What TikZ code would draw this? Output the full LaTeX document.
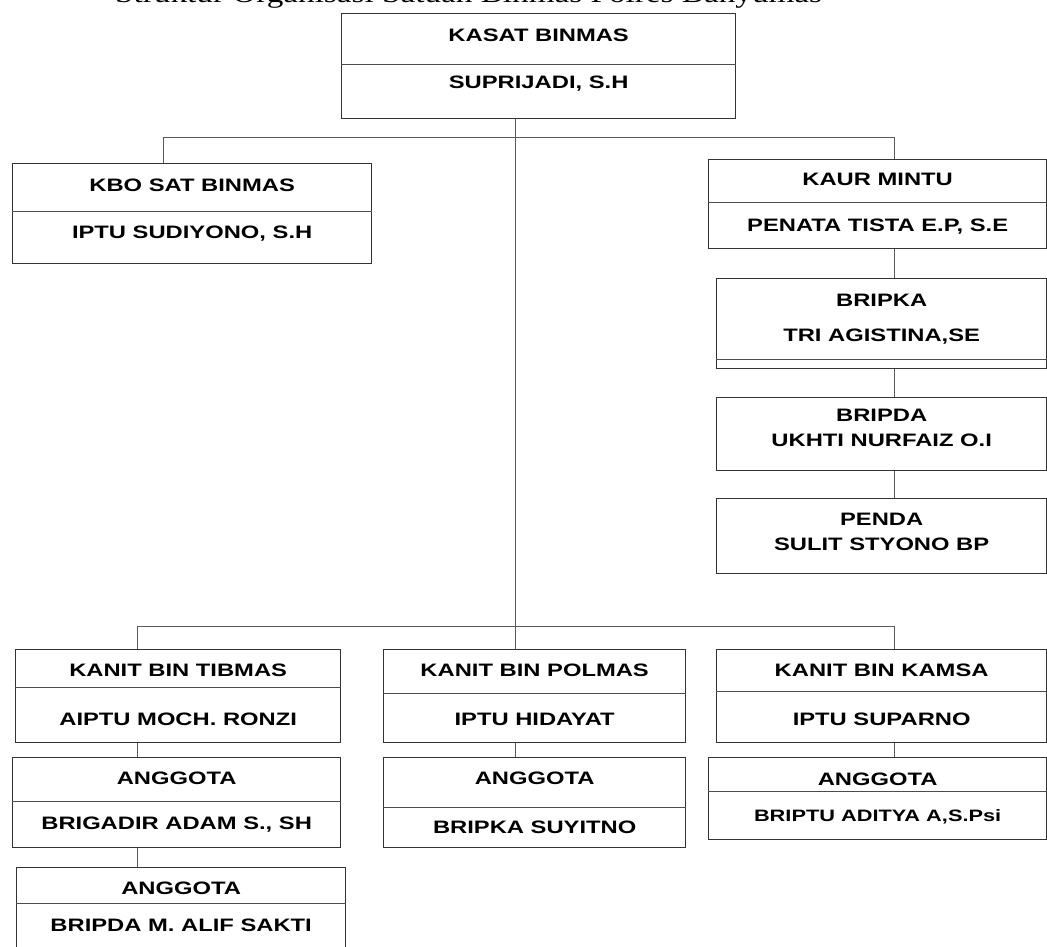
\documentclass[tikz,border=0pt]{standalone}
\usepackage{fontspec}
\setmainfont{Liberation Serif}[FakeStretch=1.23]
\newfontfamily\kotakfont{Liberation Sans}[FakeStretch=1.32]
\tikzset{
  kotak/.style = {draw=black!80, line width=1.3pt, inner sep=0pt, anchor=north west},
  teks/.style = {inner sep=0pt, font=\kotakfont\bfseries\fontsize{18}{18}\selectfont},
  sekat/.style = {draw=black!70, line width=1pt},
  garis/.style = {draw=black!65, line width=0.9pt}
}
\begin{document}
\begin{tikzpicture}[x=1pt,y=-1pt]
  \useasboundingbox (0,0) rectangle (1047,946);

  \node[anchor=base west, inner sep=0pt, font=\fontsize{27}{27}\selectfont] (judul) at (115,2)
    {Struktur Organisasi Satuan Binmas Polres Banyumas};

  % kepala
  \node[kotak, minimum width=394pt, minimum height=105pt] (kasat) at (341,13) {};
  \node[teks] (kasat-jab) at (kasat.north |- 0,35) {KASAT BINMAS};
  \node[teks] (kasat-nama) at (kasat.north |- 0,84) {SUPRIJADI, S.H};
  \draw[sekat] (kasat.west |- 0,64) -- (kasat.east |- 0,64);

  \node[kotak, minimum width=359pt, minimum height=100pt] (kbo) at (12,163) {};
  \node[teks] (kbo-jab) at (kbo.north |- 0,185) {KBO SAT BINMAS};
  \node[teks] (kbo-nama) at (kbo.north |- 0,234) {IPTU SUDIYONO, S.H};
  \draw[sekat] (kbo.west |- 0,211) -- (kbo.east |- 0,211);

  % urusan mintu
  \node[kotak, minimum width=338pt, minimum height=89pt] (kaur) at (708,159) {};
  \node[teks] (kaur-jab) at (kaur.north |- 0,179) {KAUR MINTU};
  \node[teks] (kaur-nama) at (kaur.north |- 0,227) {PENATA TISTA E.P, S.E};
  \draw[sekat] (kaur.west |- 0,202) -- (kaur.east |- 0,202);

  \node[kotak, minimum width=330pt, minimum height=90pt] (bripka) at (716,278) {};
  \node[teks] (bripka-jab) at (bripka.north |- 0,300) {BRIPKA};
  \node[teks] (bripka-nama) at (bripka.north |- 0,337) {TRI AGISTINA,SE};
  \draw[sekat] (bripka.west |- 0,359) -- (bripka.east |- 0,359);

  \node[kotak, minimum width=330pt, minimum height=73pt] (bripda) at (716,397) {};
  \node[teks] (bripda-jab) at (bripda.north |- 0,415) {BRIPDA};
  \node[teks] (bripda-nama) at (bripda.north |- 0,440) {UKHTI NURFAIZ O.I};

  \node[kotak, minimum width=330pt, minimum height=75pt] (penda) at (716,498) {};
  \node[teks] (penda-jab) at (penda.north |- 0,519) {PENDA};
  \node[teks] (penda-nama) at (penda.north |- 0,544) {SULIT STYONO BP};

  % unit bawah
  \node[kotak, minimum width=325pt, minimum height=93pt] (tibmas) at (15,649) {};
  \node[teks] (tibmas-jab) at (tibmas.north |- 0,670) {KANIT BIN TIBMAS};
  \node[teks] (tibmas-nama) at (tibmas.north |- 0,719) {AIPTU MOCH. RONZI};
  \draw[sekat] (tibmas.west |- 0,687) -- (tibmas.east |- 0,687);

  \node[kotak, minimum width=328pt, minimum height=90pt] (anggota1) at (12,757) {};
  \node[teks] (anggota1-jab) at (anggota1.north |- 0,778) {ANGGOTA};
  \node[teks] (anggota1-nama) at (anggota1.north |- 0,825) {BRIGADIR ADAM S., SH};
  \draw[sekat] (anggota1.west |- 0,801) -- (anggota1.east |- 0,801);

  \node[kotak, minimum width=329pt, minimum height=100pt] (anggota2) at (16,867) {};
  \node[teks] (anggota2-jab) at (anggota2.north |- 0,888) {ANGGOTA};
  \node[teks] (anggota2-nama) at (anggota2.north |- 0,925) {BRIPDA M. ALIF SAKTI};
  \draw[sekat] (anggota2.west |- 0,903) -- (anggota2.east |- 0,903);

  \node[kotak, minimum width=302pt, minimum height=93pt] (polmas) at (383,649) {};
  \node[teks] (polmas-jab) at (polmas.north |- 0,670) {KANIT BIN POLMAS};
  \node[teks] (polmas-nama) at (polmas.north |- 0,719) {IPTU HIDAYAT};
  \draw[sekat] (polmas.west |- 0,693) -- (polmas.east |- 0,693);

  \node[kotak, minimum width=302pt, minimum height=90pt] (anggota3) at (383,757) {};
  \node[teks] (anggota3-jab) at (anggota3.north |- 0,778) {ANGGOTA};
  \node[teks] (anggota3-nama) at (anggota3.north |- 0,827) {BRIPKA SUYITNO};
  \draw[sekat] (anggota3.west |- 0,807) -- (anggota3.east |- 0,807);

  \node[kotak, minimum width=330pt, minimum height=93pt] (kamsa) at (716,649) {};
  \node[teks] (kamsa-jab) at (kamsa.north |- 0,670) {KANIT BIN KAMSA};
  \node[teks] (kamsa-nama) at (kamsa.north |- 0,719) {IPTU SUPARNO};
  \draw[sekat] (kamsa.west |- 0,691) -- (kamsa.east |- 0,691);

  \node[kotak, minimum width=338pt, minimum height=82pt] (anggota4) at (708,757) {};
  \node[teks] (anggota4-jab) at (anggota4.north |- 0,779) {ANGGOTA};
  \node[teks, font=\kotakfont\bfseries\fontsize{16.5}{16.5}\selectfont] (anggota4-nama) at (anggota4.north |- 0,817) {BRIPTU ADITYA A,S.Psi};
  \draw[sekat] (anggota4.west |- 0,791) -- (anggota4.east |- 0,791);

  % garis penghubung
  \coordinate (pusat) at (515,0);
  \coordinate (kiri) at (163,137);
  \coordinate (kanan) at (894,137);
  \coordinate (bawah kiri) at (137,626);
  \coordinate (bawah kanan) at (894,626);

  \draw[garis] (kasat.south -| pusat) -- (polmas.north -| pusat);
  \draw[garis] (kbo.north -| kiri) -- (kiri) -- (kanan) -- (kaur.north -| kanan);
  \draw[garis] (kaur.south -| kanan) -- (bripka.north -| kanan);
  \draw[garis] (bripka.south -| kanan) -- (bripda.north -| kanan);
  \draw[garis] (bripda.south -| kanan) -- (penda.north -| kanan);
  \draw[garis] (tibmas.north -| bawah kiri) -- (bawah kiri) -- (bawah kanan) -- (kamsa.north -| bawah kanan);
  \draw[garis] (tibmas.south -| bawah kiri) -- (anggota1.north -| bawah kiri);
  \draw[garis] (anggota1.south -| bawah kiri) -- (anggota2.north -| bawah kiri);
  \draw[garis] (polmas.south -| pusat) -- (anggota3.north -| pusat);
  \draw[garis] (kamsa.south -| bawah kanan) -- (anggota4.north -| bawah kanan);
\end{tikzpicture}
\end{document}
